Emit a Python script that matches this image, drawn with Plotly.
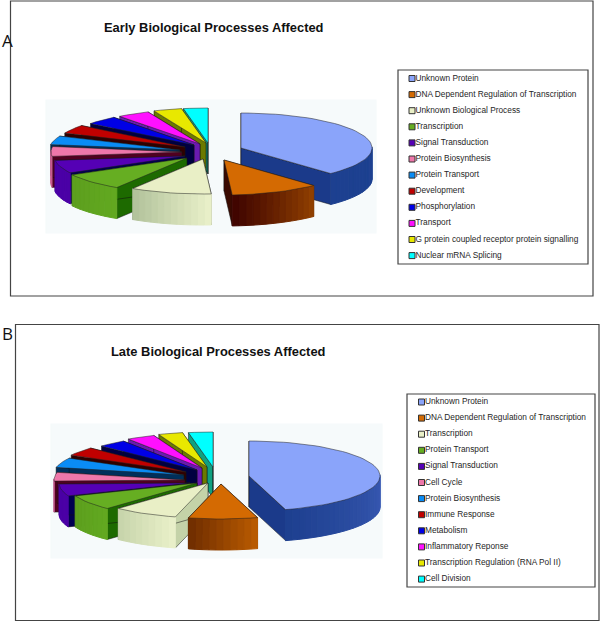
import math
import plotly.graph_objects as go

# categories and shares (percent)
early_labels = ["Unknown Protein", "DNA Dependent Regulation of Transcription", "Unknown Biological Process",
                "Transcription", "Signal Transduction", "Protein Biosynthesis", "Protein Transport",
                "Development", "Phosphorylation", "Transport",
                "G protein coupled receptor protein signalling", "Nuclear mRNA Splicing"]
early_values = [38, 11, 10, 8, 6, 4.5, 4, 4, 4, 4, 3.5, 3]

late_labels = ["Unknown Protein", "DNA Dependent Regulation of Transcription", "Transcription",
               "Protein Transport", "Signal Transduction", "Cell Cycle", "Protein Biosynthesis",
               "Immune Response", "Metabolism", "Inflammatory Reponse",
               "Transcription Regulation (RNA Pol II)", "Cell Division"]
late_values = [45.5, 8.5, 8, 7, 5.5, 4, 4.5, 4, 3.5, 3.5, 3, 3]

top_colors = ["#8aa4fa", "#d46a02", "#e9efc6", "#66ae22", "#5500b5", "#ee77aa",
              "#0a8cf5", "#c00000", "#0000e6", "#ff10ff", "#e8e800", "#00ffff"]
wall_colors = ["#1b3a8a", "#3a0a00", "#c4d2a8", "#1d6a00", "#000050", "#500020",
               "#002f5a", "#300000", "#000040", "#6a1ab0", "#6b7a00", "#10a080"]
early_rim = [("#1d4090", "#1d4090"), ("#8f3f00", "#3a0000"), ("#e8efc8", "#aebf98"), ("#62a820", "#5c9e1e"),
             ("#4b00a6", "#4b00a6"), ("#c85a90", "#c85a90"), ("#0a8cf5", "#0a8cf5"), ("#c00000", "#c00000"),
             ("#0000e6", "#0000e6"), ("#ff10ff", "#ff10ff"), ("#e8e800", "#e8e800"), ("#00ffff", "#00ffff")]
late_rim = [("#5a7ade", "#1d3f8f"), ("#b85a00", "#6a2a00"), ("#e8efc8", "#c4d2a8"), ("#62a820", "#5c9e1e"),
            ("#4b00a6", "#4b00a6"), ("#c85a90", "#c85a90"), ("#0a8cf5", "#0a8cf5"), ("#c00000", "#c00000"),
            ("#0000e6", "#0000e6"), ("#ff10ff", "#ff10ff"), ("#e8e800", "#e8e800"), ("#00ffff", "#00ffff")]

RX, RY, DEPTH = 131, 35, 31
FONT = "Liberation Sans"

# how far each slice is exploded from the pie centre, in pixels
early_shift_x = [33, 16, -5, -21, -23, -26, -28, -23, -14, -8, -2, 0]
early_shift_y = [5, 17, 16, 15, 13, 9, 7, 4, 2, 1, 0, 0]
late_shift_x = [36, 8, -5, -16, -23, -28, -29, -27, -16, -11, -6, 0]
late_shift_y = [11, 19, 18, 18, 18, 15, 10, 7, 5, 3, 2, 2]


def mix(c1, c2, t):
    a = [int(c1[i:i + 2], 16) for i in (1, 3, 5)]
    b = [int(c2[i:i + 2], 16) for i in (1, 3, 5)]
    return "rgb(%d,%d,%d)" % tuple(round(p + (q - p) * t) for p, q in zip(a, b))


def poly(fig, xs, ys, color, line=None, width=0.5):
    fig.add_trace(go.Scatter(x=xs + xs[:1], y=ys + ys[:1], mode="lines", fill="toself", fillcolor=color,
                             line=dict(color=line or color, width=width), hoverinfo="skip", showlegend=False))


def draw_pie(fig, cx, cy, values, shift_x, shift_y, rims):
    total = sum(values)
    slices = []
    start = 0
    for i, v in enumerate(values):
        end = start + 360 * v / total
        slices.append((i, start, end))
        start = end
    # paint from the back of the pie to the front
    slices.sort(key=lambda s: -math.cos(math.radians((s[1] + s[2]) / 2)))
    for i, a0, a1 in slices:
        ax = cx + shift_x[i]
        ay = cy + shift_y[i]
        n = max(4, int((a1 - a0) / 3))
        angles = [math.radians(a0 + (a1 - a0) * k / n) for k in range(n + 1)]
        px = [ax + RX * math.sin(t) for t in angles]
        py = [ay - RY * math.cos(t) for t in angles]
        # side walls
        for ex, ey in ((px[0], py[0]), (px[-1], py[-1])):
            poly(fig, [ax, ex, ex, ax], [ay, ey, ey + DEPTH, ay + DEPTH], wall_colors[i], "#101010")
        # rim, front half only
        for k in range(n):
            if math.cos((angles[k] + angles[k + 1]) / 2) < 0.05:
                col = mix(rims[i][0], rims[i][1], k / n)
                poly(fig, [px[k], px[k + 1], px[k + 1], px[k]],
                     [py[k], py[k + 1], py[k + 1] + DEPTH, py[k] + DEPTH], col, width=1)
        # top face
        poly(fig, [ax] + px, [ay] + py, top_colors[i], "#202020")


def draw_legend(fig, labels, mx, y0):
    ys = [y0 + 16.1 * k for k in range(len(labels))]
    fig.add_trace(go.Scatter(x=[mx] * len(labels), y=ys, mode="markers",
                             marker=dict(symbol="square", size=6, color=top_colors,
                                         line=dict(color="#333333", width=1)),
                             hoverinfo="skip", showlegend=False))
    fig.add_trace(go.Scatter(x=[mx + 3.5] * len(labels), y=ys, mode="text", text=labels,
                             textposition="middle right",
                             textfont=dict(family=FONT, size=8.3, color="#262626"),
                             hoverinfo="skip", showlegend=False))


fig = go.Figure()
draw_pie(fig, 208, 143, early_values, early_shift_x, early_shift_y, early_rim)
draw_pie(fig, 213, 465, late_values, late_shift_x, late_shift_y, late_rim)
draw_legend(fig, early_labels, 412, 78.5)
draw_legend(fig, late_labels, 421.5, 402)


def rect(x0, y0, x1, y1, line="#444444", width=1.2, fill=None, layer="above"):
    return dict(type="rect", x0=x0, y0=y0, x1=x1, y1=y1, xref="x", yref="y", layer=layer,
                line=dict(color=line, width=width), fillcolor=fill or "rgba(0,0,0,0)")


def note(x, y, text, size, bold=False, family=FONT, color="#111111"):
    return dict(x=x, y=y, xref="x", yref="y", text=f"<b>{text}</b>" if bold else text, showarrow=False,
                xanchor="left", yanchor="middle", font=dict(family=family, size=size, color=color))


fig.update_layout(
    width=600, height=622,
    margin=dict(l=0, r=0, t=0, b=0),
    paper_bgcolor="white", plot_bgcolor="white",
    showlegend=False,
    xaxis=dict(range=[0, 600], visible=False, fixedrange=True),
    yaxis=dict(range=[622, 0], visible=False, fixedrange=True),
    shapes=[
        rect(46, 100, 376, 233, line="#f6fafb", fill="#f6fafb", layer="below"),
        rect(51, 424, 382, 558, line="#f6fafb", fill="#f6fafb", layer="below"),
        rect(10.5, 1, 593, 296),
        rect(15.5, 324.5, 599, 620.5),
        rect(398, 70, 588, 264),
        rect(407, 394, 595, 587),
    ],
    annotations=[
        note(102, 27, "Early Biological Processes Affected", 12.9, bold=True),
        note(109, 351, "Late Biological Processes Affected", 12.9, bold=True),
        note(0, 40, "A", 17, family="Open Sans"),
        note(0, 333, "B", 17, family="Open Sans"),
    ],
)

# the browser's default body margin would push the picture 8px in
fig.write_html("out.html", config=dict(displayModeBar=False),
               post_script="document.body.style.margin='0';")
